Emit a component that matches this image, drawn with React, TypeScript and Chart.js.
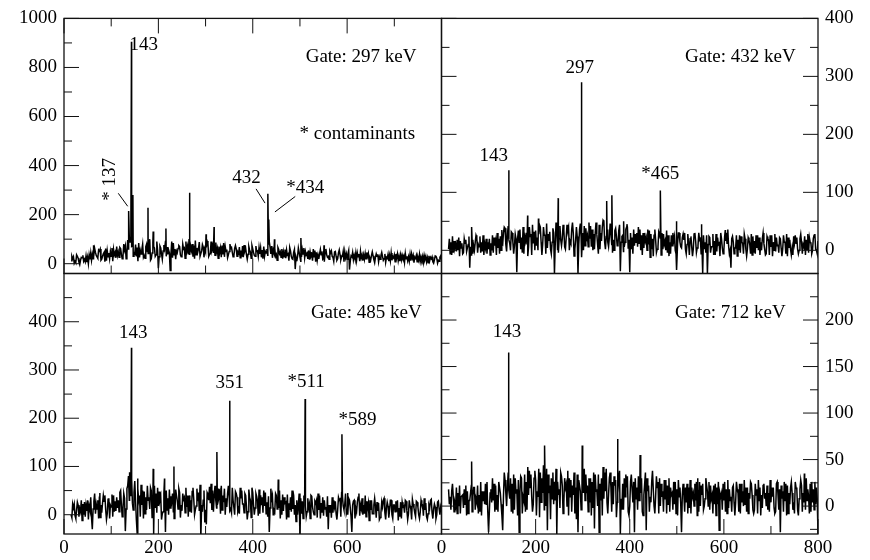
import { useEffect, useRef } from "react";
import { Chart, registerables } from "chart.js";

Chart.register(...registerables);

// Channel layout of the coincidence spectra (keV): each 5 keV group holds three
// channels, at +0, +5/3 and +10/3 keV from the group start.
const START_KEV = 15;
const GROUP_KEV = 5;

// Gate 297 keV: first channel of each group, 15..800 keV
const GATE_297_COUNTS = [
  12, 28, 4, 22, 14, 34, 8, 26, 18, 38,
  62, 28, 52, 18, 46, 12, 44, 30, 58, 24,
  48, 62, 30, 72, 96, 88, 72, 40, 66, 26,
  58, 34, 80, 62, 20, 70, 36, -18, 64, 52,
  90, 38, -28, 24, 60, 44, 70, 32, 64, 50,
  100, 54, 74, 36, 60, 30, 68, 48, 82, 40,
  70, 34, 62, 46, 74, 28, 58, 50, 66, 32,
  60, 42, 54, 26, 62, 38, 48, 60, 30, 52,
  40, 56, 30, 60, 90, 72, 44, 38, 58, 26,
  48, 22, 40, 52, 18, -22, 30, 46, 58, 24,
  42, 16, 38, 28, 46, 20, 36, 22, 60, 30,
  44, 26, 50, 20, 36, 30, 48, 18, -24, 28,
  34, 14, 40, 24, 36, 20, 42, 16, 32, 26,
  38, 18, 30, 40, 22, 34, 14, 36, 24, 30,
  16, 32, 20, 28, 12, 34, 22, 26, 10, 30,
  18, 24, 12, 28, 16, 22, 10, 18,
];
// second channel of each group
const GATE_297_MID = [
  30, 2, 36, 6, 26, 10, 32, 0, 44, 20,
  46, 22, 60, 30, 8, 52, 20, 64, 36, 70,
  26, 38, 80, 20, 60, 100, 30, 78, 10, 54,
  80, 22, 50, 100, 44, 64, 90, 28, 40, 76,
  30, 56, 40, 84, 18, 62, 36, 80, 22, 70,
  36, 80, 20, 64, 88, 52, 26, 66, 30, 90,
  44, 86, 22, 64, 38, 70, 24, 80, 46, 62,
  30, 68, 28, 76, 36, 70, 22, 46, 72, 30,
  64, 20, 50, 34, 68, 24, 62, 14, 40, 60,
  28, 56, 12, 30, 46, 26, 64, 10, 40, 50,
  20, 48, 12, 54, 14, 40, 50, 8, 36, 18,
  52, 10, 30, 44, 16, 50, 24, 40, 10, 46,
  20, 44, 10, 36, 18, 46, 6, 34, 16, 40,
  8, 34, 14, 6, 38, 12, 30, 8, 40, 10,
  36, 6, 30, 10, 40, 4, 34, 14, 28, 6,
  30, 4, 26, 8, 32, 2, 26,
];
// third channel of each group
const GATE_297_LATE = [
  20, 10, 30, -4, 24, 18, 6, 36, 14, 28,
  34, 56, 14, 40, 62, 28, 50, 10, 46, 34,
  66, 20, 56, 44, 110, 70, 44, 30, 84, 40,
  26, 70, 42, 14, 84, 30, 56, 72, 18, 60,
  68, 44, 90, 36, 52, 74, 28, 60, 90, 38,
  72, 28, 94, 46, 30, 78, 60, 92, 38, 56,
  80, 48, 70, 26, 84, 50, 36, 62, 28, 74,
  48, 24, 72, 52, 18, 56, 74, 34, 50, 66,
  26, 70, 44, 80, 40, 56, 30, 66, 48, 20,
  58, 36, 66, 20, 58, 10, 46, 28, 64, 36,
  54, 30, 60, 8, 36, 58, 18, 44, 26, 52,
  30, 48, 14, 56, 28, 8, 40, 54, 32, 16,
  44, 28, 50, 12, 42, 30, 24, 48, 4, 30,
  28, 46, 20, 26, 10, 44, 24, 40, 12, 36,
  24, 42, 12, 38, 22, 26, 8, 38, 16, 34,
  8, 32, 20, 2, 30, 14, 32,
];
const GATE_297_PEAK_KEV = [62, 137, 143, 146, 178, 189, 216, 266, 301, 318, 432, 434, 446, 502, 551];
const GATE_297_PEAK_COUNTS = [75, 215, 905, 280, 228, 131, 143, 289, 120, 150, 285, 180, 100, 105, 75];

// Gate 432 keV
const GATE_432_COUNTS = [
  2, 14, -4, 10, 0, 16, -6, 12, 4, -30,
  18, 0, 22, 6, 14, -8, 20, 2, 12, -4,
  16, 4, 24, 10, 38, 26, 12, 30, 8, -38,
  14, 22, -6, 30, 6, 28, 12, 34, 0, 40,
  10, 26, 4, 32, 14, -40, 36, 20, 8, 34,
  22, 40, 12, 30, 18, -40, 46, 30, 8, 26,
  20, 36, 2, 28, 44, 16, 50, 24, 6, 30,
  18, 38, 10, -36, 26, 14, 40, -38, 22, 8,
  30, 12, 26, 4, 22, 10, 28, -10, 18, 6,
  20, 2, 16, -4, 14, 8, 24, -34, 30, 4,
  18, -6, 12, 24, 2, 16, 8, 20, -40, 14,
  -40, 22, 6, 16, -2, 12, 20, 0, 30, 8,
  -30, 14, 4, 18, -4, 12, 20, 2, 10, -8,
  16, 4, 22, 0, 12, -6, 18, 6, 14, -2,
  10, 20, 2, 14, -10, 18, 4, 12, 22, 0,
  14, 6, 18, -4, 12, 20, 2, 16,
];
const GATE_432_MID = [
  20, -8, 16, -2, 22, 4, -4, 18, 10, 6,
  -6, 14, -4, 24, -2, 12, -6, 20, 0, 22,
  -8, 20, 0, 30, 10, 42, 0, 14, 28, 20,
  36, -4, 24, 10, 40, -8, 32, 8, 28, 14,
  40, -6, 28, 2, 38, 10, 0, 42, 20, 6,
  44, 0, 36, -10, 40, 10, 22, 0, 38, 6,
  42, 0, 30, 10, 2, 40, 14, 36, 22, 10,
  0, 24, 34, 14, -2, 36, 4, 30, -6, 28,
  6, 36, -8, 30, 0, 34, 2, 26, -4, 32,
  -8, 28, 0, 26, -6, 30, 0, 12, 14, 22,
  30, 10, -8, 6, 28, -4, 30, -6, 26, -4,
  10, -4, 28, -8, 22, -10, 4, 24, 12, -6,
  20, -6, 26, 0, 24, -6, 2, 22, -6, 24,
  -6, 26, -8, 20, 2, 24, -8, 26, 0, 22,
  -4, 4, 26, -6, 22, 2, -8, 26, 2, 20,
  -6, 24, 2, 22, -6, 26, 0,
];
const GATE_432_LATE = [
  -6, 24, 4, 18, -10, 12, 20, -2, 24, -8,
  8, 26, 10, -4, 26, 4, 14, -8, 26, 8,
  30, -6, 12, 40, -2, 18, 32, -6, 20, 34,
  2, 40, 16, -10, 24, 44, 0, 22, 44, -8,
  26, 46, 16, -6, 30, 48, -4, 18, 44, 2,
  34, 16, 48, 2, 24, 36, -12, 42, 20, 48,
  6, 28, 48, -6, 30, 52, 2, 14, 46, -4,
  34, 8, 44, 24, 6, 40, 18, 2, 36, 14,
  40, 0, 30, 16, 36, -12, 20, 36, 2, 28,
  30, 10, 34, -10, 26, 16, -6, 30, 6, 28,
  2, 28, 20, -10, 30, 4, 18, 30, 2, 26,
  24, 6, -8, 28, 10, 30, -6, 16, 36, 0,
  24, 4, -10, 26, 14, 28, -10, 18, 28, -4,
  26, 0, 14, 30, -8, 20, 26, -10, 28, 8,
  22, -10, 14, 28, 4, -8, 24, 12, -6, 28,
  10, -8, 28, 14, 0, 28, -6,
];
const GATE_432_PEAK_KEV = [64, 128, 143, 183, 206, 248, 297, 351, 362, 387, 394, 465, 499, 552, 603];
const GATE_432_PEAK_COUNTS = [40, 35, 138, 60, 55, 90, 290, 85, 95, 50, 45, 103, 50, 45, 35];

// Gate 485 keV
const GATE_485_COUNTS = [
  0, 14, -8, 20, 6, 22, -4, 30, 10, -30,
  44, 12, 36, 4, 28, -10, 34, 16, 40, 8,
  30, 50, 12, -34, 60, 40, 24, 70, -38, 40,
  20, 48, 10, 36, 50, -40, 44, 18, 38, 6,
  -36, 34, 14, 44, 2, 30, 46, 8, 36, 16,
  40, 4, 32, 18, 46, -48, 30, 10, 42, 24,
  50, 60, 20, 44, 10, 54, 16, 38, 4, 30,
  44, 12, 34, 22, 40, 6, 30, 46, 14, 28,
  2, 36, 18, 26, -36, 32, 10, 40, 14, 30,
  8, 26, -4, 36, 12, 20, 0, -50, 28, 30,
  6, 22, 38, 0, 30, 10, 24, -2, 16, -30,
  20, 4, 28, 10, 32, 40, 22, 8, 30, -36,
  30, 6, 44, 12, 20, -4, 24, 10, 2, 18,
  8, -6, 16, 4, 26, 10, 0, 20, 6, 14,
  -8, 18, 28, 2, 12, 22, -4, 16, 6, 20,
  10, -10, 14, 4, 22, 0, 12, 8,
];
const GATE_485_MID = [
  -6, 22, 10, -4, 30, 0, 20, -10, 36, 12,
  2, 30, -6, 24, 40, 2, -8, 42, 6, 36,
  6, 20, 44, 12, 80, 56, 10, 28, 54, -4,
  50, 2, 60, 12, -6, 60, 4, 48, -10, 44,
  50, 0, 38, 6, 52, 12, -6, 44, 4, 40,
  6, 48, 0, 54, 8, 20, 50, -20, 30, 64,
  6, 30, 54, 2, 40, 0, 44, 8, 56, 0,
  36, 2, 50, 4, 18, 52, -6, 20, 44, -2,
  40, 4, 46, -4, 14, 40, 6, 12, 50, 0,
  36, -10, 24, 6, 40, -14, 20, 34, -8, 18,
  34, -8, 16, 28, -6, 40, 4, 30, -4, 20,
  -6, 30, 2, 36, -4, 18, 44, 0, 14, 20,
  -8, 26, -2, 34, 2, 28, -12, 30, 20, -6,
  24, 4, 30, -10, 18, 30, -8, 6, 30, -4,
  26, 4, 8, 30, -10, 14, 28, 0, 30, -2,
  24, 2, 30, -8, 16, 26, 0,
];
const GATE_485_LATE = [
  22, -2, 26, 12, -12, 26, 8, 18, -6, 28,
  22, -8, 20, 40, 10, 32, 20, -4, 28, 14,
  46, -4, 34, 54, 30, 74, 46, -10, 30, 62,
  -8, 36, 30, 56, 22, 14, 56, 30, 2, 52,
  10, 52, 28, -8, 40, 54, 20, 32, 56, -4,
  30, 56, 10, 28, 62, 6, -16, 46, 58, 10,
  40, 14, 36, 60, 26, 34, 60, 12, 30, 48,
  6, 56, 22, 44, -10, 36, 56, 0, 38, 52,
  20, 50, 2, 38, 54, 0, 44, 28, -8, 42,
  24, 42, 10, 50, 0, 30, 44, 2, 40, -4,
  14, 40, 6, 24, 44, -8, 36, 12, 38, 4,
  36, 16, -10, 30, 46, 10, 2, 34, -4, 28,
  14, 36, 20, 0, 40, 14, 30, 2, 34, 26,
  -10, 26, 34, 14, -6, 30, 20, 28, -12, 26,
  16, 30, -10, 18, 32, 4, 26, -8, 22, 34,
  -4, 20, 32, 12, -8, 28, 16,
];
const GATE_485_PEAK_KEV = [76, 139, 143, 156, 189, 213, 233, 324, 351, 454, 485, 511, 589, 601];
const GATE_485_PEAK_COUNTS = [45, 88, 346, 75, 95, 75, 100, 130, 236, 73, 50, 240, 167, 45];

// Gate 712 keV
const GATE_712_COUNTS = [
  18, -4, 10, 0, 14, -8, 12, 2, 16, 6,
  -6, 20, 4, 12, -10, 16, 2, -28, 18, 6,
  22, -6, 14, -26, 28, 20, 8, 24, -4, 18,
  -28, 30, 6, 26, 12, 34, 2, 28, 10, 36,
  14, 30, -26, 22, 8, 26, -30, 18, 32, 4,
  24, -10, 28, 12, 20, -28, 16, 34, 6, 22,
  4, 26, -24, 18, -28, 30, 8, 40, 12, 20,
  2, 28, 14, -30, 24, 10, 32, 0, 18, -28,
  20, 6, 30, 12, -26, 22, 4, 18, 10, 26,
  0, 16, 8, 22, -6, 14, 2, 18, 10, -28,
  12, 4, 20, -8, 14, 6, 18, 0, 24, 8,
  16, -4, 12, 2, 20, -26, 14, 6, 18, -2,
  10, 22, 4, 14, -8, 16, 2, 20, 8, 12,
  -4, 18, 6, 12, 24, 0, 14, 4, 20, -6,
  12, -28, 16, 6, 22, 2, 14, -8, 18, 8,
  22, 4, 30, 10, -6, 18, 2, -30,
];
const GATE_712_MID = [
  2, 16, -6, 20, 0, 10, -2, 22, -8, 14,
  10, -4, 22, -6, 16, 2, 26, -6, 4, 24,
  -4, 26, 2, 10, 14, 36, 30, -8, 30, -10,
  14, -8, 34, -4, 38, 10, 30, -10, 40, 4,
  44, 0, 34, -14, 36, 6, 26, -2, 22, 30,
  0, 30, -6, 36, -14, 28, -4, 14, 34, -6,
  30, -2, 34, 0, 24, -10, 36, 4, 30, -6,
  32, -12, 30, 8, -4, 34, -6, 26, 4, 30,
  -4, 30, -6, 24, 30, -6, 26, 0, 32, -8,
  24, -6, 28, 2, 20, -4, 26, -10, 20, 12,
  -6, 24, -2, 20, 0, 26, -6, 22, -4, 30,
  0, 22, -8, 24, 2, 14, -4, 26, -8, 18,
  -6, 4, 26, -6, 24, 0, 20, -8, 26, -4,
  24, -8, 20, -2, 8, 22, -6, 20, -2, 24,
  -4, 22, -6, 24, -8, 20, -4, 26, -4, 18,
  -6, 24, 6, -8, 26, -4, 20,
];
const GATE_712_LATE = [
  10, 24, 4, -8, 22, 10, 18, -10, 6, 22,
  20, 8, -8, 26, 6, 24, -6, 14, 30, -6,
  12, 20, -10, 36, 0, 18, -6, 34, 14, 28,
  32, 10, -6, 42, 20, -6, 38, 16, -12, 30,
  -4, 40, 14, 30, 2, 40, 12, 36, -8, 20,
  38, 10, 22, -8, 34, 22, 0, 40, 14, 30,
  -10, 36, 16, 34, 6, 42, 16, -8, 36, 26,
  22, 4, 38, -4, 30, 20, -10, 34, 26, 8,
  32, 14, -10, 36, 16, 10, 38, -8, 20, 30,
  10, 28, -8, 30, 12, 26, -8, 28, 2, 24,
  20, -8, 28, 10, 24, -10, 26, 12, 0, 22,
  26, 8, 22, -10, 26, 10, 24, -6, 28, 6,
  20, -10, 18, 24, 4, 28, -6, 14, 24, -8,
  12, 28, -10, 22, 14, -4, 28, 10, -8, 26,
  18, 8, 26, -10, 14, 26, 4, 20, -10, 28,
  14, -4, 18, 24, 4, 26, 8,
];
const GATE_712_PEAK_KEV = [64, 142, 143, 219, 299, 350, 374, 422, 544, 771];
const GATE_712_PEAK_COUNTS = [48, 130, 165, 65, 65, 40, 72, 55, 30, 35];

// Axis tick labels
const X_LABELS_LEFT = [0, 200, 400, 600];
const X_LABELS_RIGHT = [0, 200, 400, 600, 800];
const Y_LABELS_297 = [0, 200, 400, 600, 800, 1000];
const Y_LABELS_432 = [0, 100, 200, 300, 400];
const Y_LABELS_485 = [0, 100, 200, 300, 400];
const Y_LABELS_712 = [0, 50, 100, 150, 200];

const FAMILY = '"Liberation Serif", "Times New Roman", serif';
const FONT_SIZE = 19;
const PAGE_W = 870;
const PAGE_H = 560;

type Note = { text: string; x: number; y: number; align?: CanvasTextAlign; vertical?: boolean };

interface Panel {
  channels: number[][];
  peakKeV: number[];
  peakCounts: number[];
  yMin: number;
  yMax: number;
  yLabels: number[];
  yMajor: number;
  yMinor: number;
  xLabels: number[];
  showXLabels: boolean;
  yAxis: "left" | "right";
  area: { left: number; top: number; right: number; bottom: number };
  ticksTop: boolean;
  ticksBottom: boolean;
  ticksRight: boolean;
  notes: Note[];
  leaders: number[][];
}

const PANELS: Panel[] = [
  {
    channels: [GATE_297_COUNTS, GATE_297_MID, GATE_297_LATE],
    peakKeV: GATE_297_PEAK_KEV,
    peakCounts: GATE_297_PEAK_COUNTS,
    yMin: -40,
    yMax: 1000,
    yLabels: Y_LABELS_297,
    yMajor: 200,
    yMinor: 100,
    xLabels: [],
    showXLabels: false,
    yAxis: "left",
    area: { left: 64, top: 13.5, right: 441.5, bottom: 273.5 },
    ticksTop: true,
    ticksBottom: true,
    ticksRight: false,
    notes: [
      { text: "143", x: 169, y: 890 },
      { text: "* 137", x: 97.5, y: 344, vertical: true },
      { text: "432", x: 387, y: 351 },
      { text: "*434", x: 511, y: 310 },
      { text: "Gate: 297 keV", x: 747, y: 844, align: "right" },
      { text: "* contaminants", x: 744, y: 527, align: "right" },
    ],
    leaders: [
      [115, 287, 135, 234],
      [407, 305, 426, 247],
      [490, 274, 447, 211],
    ],
  },
  {
    channels: [GATE_432_COUNTS, GATE_432_MID, GATE_432_LATE],
    peakKeV: GATE_432_PEAK_KEV,
    peakCounts: GATE_432_PEAK_COUNTS,
    yMin: -40,
    yMax: 400,
    yLabels: Y_LABELS_432,
    yMajor: 100,
    yMinor: 50,
    xLabels: [],
    showXLabels: false,
    yAxis: "right",
    area: { left: 441.5, top: 13.5, right: 818, bottom: 273.5 },
    ticksTop: false,
    ticksBottom: false,
    ticksRight: true,
    notes: [
      { text: "Gate: 432 keV", x: 752.7, y: 333, align: "right" },
      { text: "297", x: 294, y: 315 },
      { text: "143", x: 111, y: 163.5 },
      { text: "*465", x: 465, y: 132 },
    ],
    leaders: [],
  },
  {
    channels: [GATE_485_COUNTS, GATE_485_MID, GATE_485_LATE],
    peakKeV: GATE_485_PEAK_KEV,
    peakCounts: GATE_485_PEAK_COUNTS,
    yMin: -40,
    yMax: 500,
    yLabels: Y_LABELS_485,
    yMajor: 100,
    yMinor: 50,
    xLabels: X_LABELS_LEFT,
    showXLabels: true,
    yAxis: "left",
    area: { left: 64, top: 273.5, right: 441.5, bottom: 534 },
    ticksTop: false,
    ticksBottom: true,
    ticksRight: false,
    notes: [
      { text: "Gate: 485 keV", x: 758, y: 417.5, align: "right" },
      { text: "143", x: 147, y: 377 },
      { text: "351", x: 351, y: 274 },
      { text: "*511", x: 513, y: 276 },
      { text: "*589", x: 622, y: 196 },
    ],
    leaders: [],
  },
  {
    channels: [GATE_712_COUNTS, GATE_712_MID, GATE_712_LATE],
    peakKeV: GATE_712_PEAK_KEV,
    peakCounts: GATE_712_PEAK_COUNTS,
    yMin: -30,
    yMax: 250,
    yLabels: Y_LABELS_712,
    yMajor: 50,
    yMinor: 25,
    xLabels: X_LABELS_RIGHT,
    showXLabels: true,
    yAxis: "right",
    area: { left: 441.5, top: 273.5, right: 818, bottom: 534 },
    ticksTop: false,
    ticksBottom: true,
    ticksRight: true,
    notes: [
      { text: "Gate: 712 keV", x: 731.5, y: 207, align: "right" },
      { text: "143", x: 139.4, y: 187.5 },
    ],
    leaders: [],
  },
];

// Merge the three channel sets and the narrow photopeak channels, ordered by energy
function spectrumPoints(p: Panel) {
  const pts: { x: number; y: number }[] = [];
  p.channels.forEach((set, k) => {
    const offset = (k * GROUP_KEV) / p.channels.length;
    set.forEach((c, i) => pts.push({ x: START_KEV + offset + i * GROUP_KEV, y: c }));
  });
  p.peakKeV.forEach((e, i) => pts.push({ x: e, y: p.peakCounts[i] }));
  pts.sort((a, b) => a.x - b.x);
  return pts;
}

function decorPlugin(p: Panel) {
  return {
    id: "panelDecor",
    afterDatasetsDraw(chart: any) {
      const { ctx, chartArea: a } = chart;
      const xs = chart.scales.x;
      const ys = chart.scales.y;
      const major = 15;
      const minor = 8;
      ctx.save();
      ctx.strokeStyle = "#111";
      ctx.lineWidth = 1;
      ctx.beginPath();
      for (let v = 0; v <= 800; v += 100) {
        const px = xs.getPixelForValue(v);
        const len = v % 200 === 0 ? major : minor;
        if (p.ticksTop) {
          ctx.moveTo(px, a.top);
          ctx.lineTo(px, a.top + len);
        }
        if (p.ticksBottom) {
          ctx.moveTo(px, a.bottom);
          ctx.lineTo(px, a.bottom - len);
        }
      }
      const first = Math.ceil(p.yMin / p.yMinor) * p.yMinor;
      for (let v = first; v <= p.yMax; v += p.yMinor) {
        const py = ys.getPixelForValue(v);
        const len = v % p.yMajor === 0 ? major : minor;
        ctx.moveTo(a.left, py);
        ctx.lineTo(a.left + len, py);
        if (p.ticksRight) {
          ctx.moveTo(a.right, py);
          ctx.lineTo(a.right - len, py);
        }
      }
      ctx.stroke();

      ctx.lineWidth = 1.3;
      ctx.strokeRect(a.left, a.top, a.right - a.left, a.bottom - a.top);

      ctx.lineWidth = 1;
      ctx.strokeStyle = "#000";
      ctx.beginPath();
      p.leaders.forEach(([x1, y1, x2, y2]) => {
        ctx.moveTo(xs.getPixelForValue(x1), ys.getPixelForValue(y1));
        ctx.lineTo(xs.getPixelForValue(x2), ys.getPixelForValue(y2));
      });
      ctx.stroke();

      ctx.fillStyle = "#000";
      ctx.font = `${FONT_SIZE}px ${FAMILY}`;
      ctx.textBaseline = "middle";
      p.notes.forEach((n) => {
        const px = xs.getPixelForValue(n.x);
        const py = ys.getPixelForValue(n.y);
        if (n.vertical) {
          ctx.save();
          ctx.translate(px, py);
          ctx.rotate(-Math.PI / 2);
          ctx.textAlign = "center";
          ctx.fillText(n.text, 0, 0);
          ctx.restore();
        } else {
          ctx.textAlign = n.align ?? "center";
          ctx.fillText(n.text, px, py);
        }
      });
      ctx.restore();
    },
  };
}

function SpectrumPanel({ panel }: { panel: Panel }) {
  const ref = useRef<HTMLCanvasElement>(null);

  useEffect(() => {
    const p = panel;
    const yWidth = p.yAxis === "left" ? p.area.left : PAGE_W - p.area.right;
    const xHeight = p.showXLabels ? PAGE_H - p.area.bottom : 0;
    const font = { family: FAMILY, size: FONT_SIZE };
    const chart = new Chart(ref.current!, {
      type: "line",
      data: {
        datasets: [
          {
            data: spectrumPoints(p),
            borderColor: "#000",
            borderWidth: 1.5,
            pointRadius: 0,
            tension: 0,
            fill: false,
          },
        ],
      },
      options: {
        responsive: false,
        animation: false,
        devicePixelRatio: 1,
        events: [],
        layout: {
          autoPadding: false,
          padding: {
            left: p.yAxis === "left" ? 0 : p.area.left,
            right: p.yAxis === "right" ? 0 : PAGE_W - p.area.right,
            top: p.area.top,
            bottom: p.showXLabels ? 0 : PAGE_H - p.area.bottom,
          },
        },
        plugins: { legend: { display: false }, tooltip: { enabled: false } },
        scales: {
          x: {
            type: "linear",
            position: "bottom",
            min: 0,
            max: 800,
            grid: { display: false, drawTicks: false },
            border: { display: false },
            ticks: {
              display: p.showXLabels,
              font,
              color: "#000",
              padding: 3,
              maxRotation: 0,
              autoSkip: false,
              callback: (v: any) => String(v),
            },
            afterBuildTicks: (s: any) => {
              s.ticks = p.xLabels.map((v) => ({ value: v }));
            },
            afterFit: (s: any) => {
              s.height = xHeight;
            },
          },
          y: {
            type: "linear",
            position: p.yAxis,
            min: p.yMin,
            max: p.yMax,
            grid: { display: false, drawTicks: false },
            border: { display: false },
            ticks: {
              font,
              color: "#000",
              padding: 7,
              autoSkip: false,
              callback: (v: any) => String(v),
            },
            afterBuildTicks: (s: any) => {
              s.ticks = p.yLabels.map((v) => ({ value: v }));
            },
            afterFit: (s: any) => {
              s.width = yWidth;
            },
          },
        },
      } as any,
      plugins: [decorPlugin(p)],
    });
    return () => chart.destroy();
  }, [panel]);

  return (
    <canvas
      ref={ref}
      width={PAGE_W}
      height={PAGE_H}
      style={{ position: "absolute", left: 0, top: 0 }}
    />
  );
}

export default function App() {
  return (
    <div
      style={{
        position: "absolute",
        left: 0,
        top: 0,
        width: PAGE_W,
        height: PAGE_H,
        background: "#fff",
        overflow: "hidden",
      }}
    >
      {PANELS.map((p, i) => (
        <SpectrumPanel key={i} panel={p} />
      ))}
    </div>
  );
}
